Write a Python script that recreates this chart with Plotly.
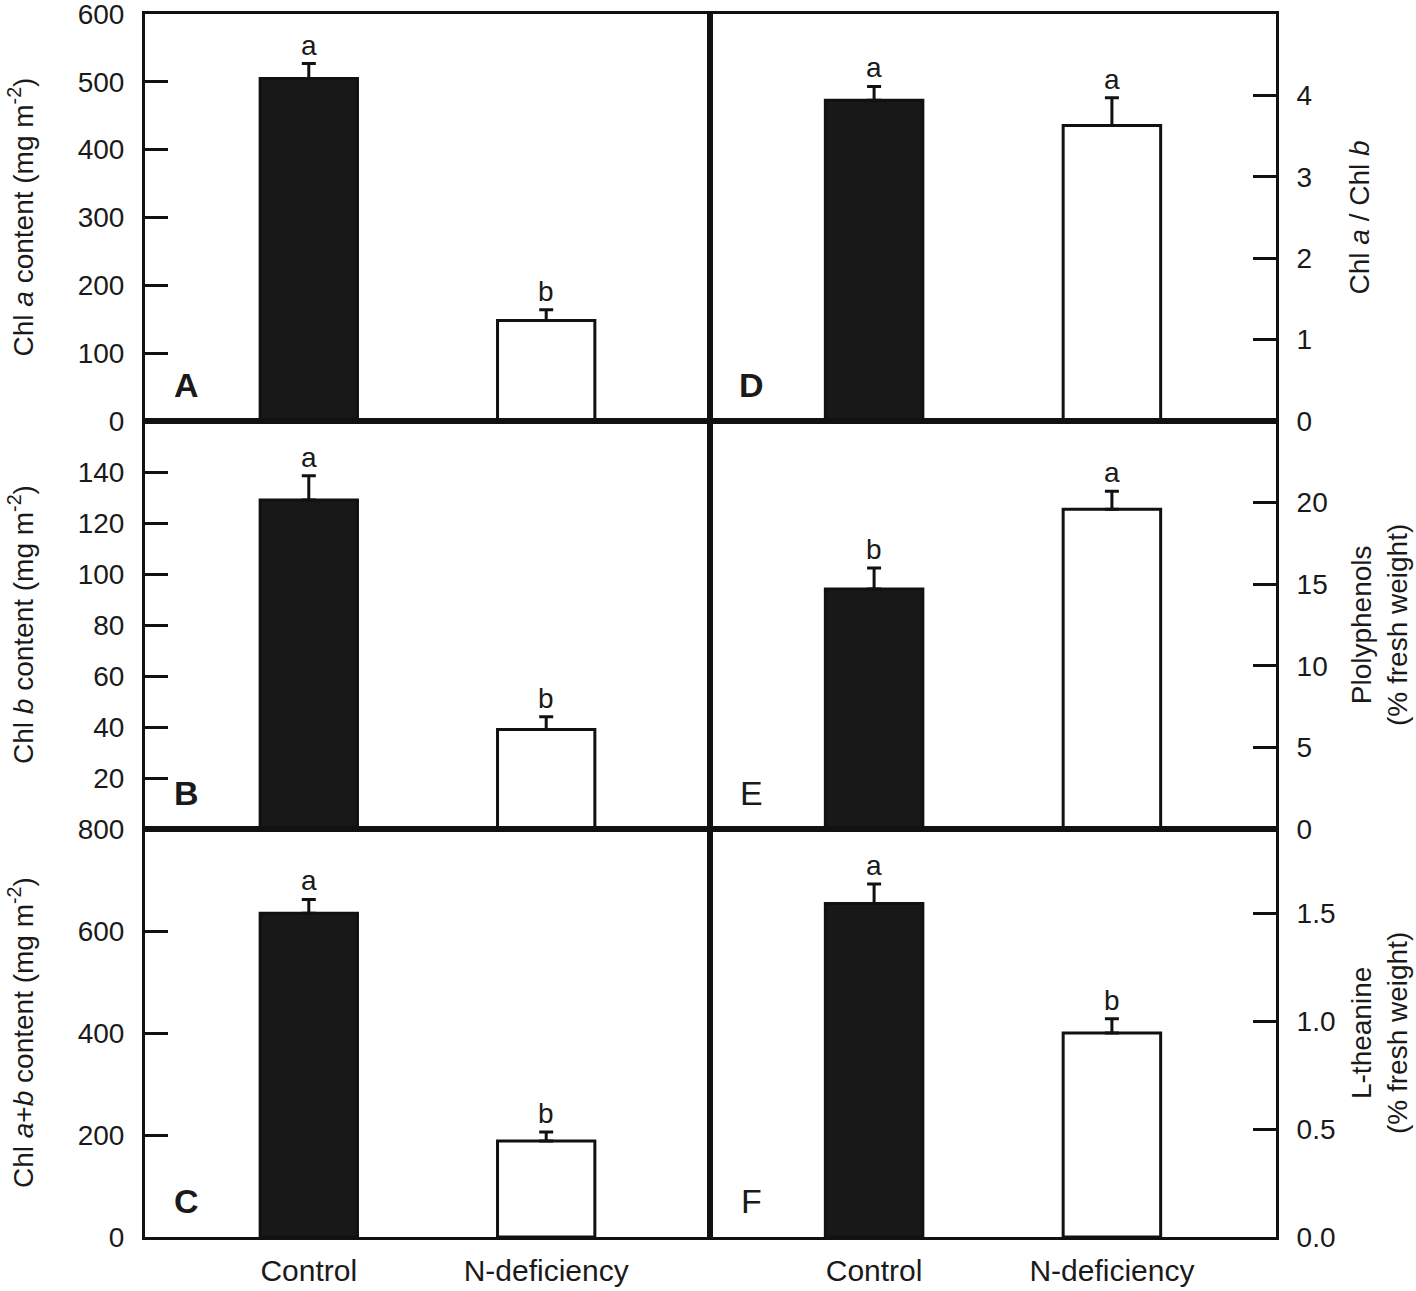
import plotly.graph_objects as go

categories = ["Control", "N-deficiency"]
xpos = [0, 1]

chl_a = [505, 148]
chl_a_err = [22, 16]
chl_a_letters = ["a", "b"]

chl_b = [129, 39]
chl_b_err = [9.5, 5]
chl_b_letters = ["a", "b"]

chl_ab = [635, 188]
chl_ab_err = [27, 18]
chl_ab_letters = ["a", "b"]

ratio = [3.94, 3.63]
ratio_err = [0.17, 0.34]
ratio_letters = ["a", "a"]

polyphenols = [14.7, 19.6]
polyphenols_err = [1.3, 1.1]
polyphenols_letters = ["b", "a"]

theanine = [1.545, 0.945]
theanine_err = [0.09, 0.066]
theanine_letters = ["a", "b"]

W, H = 1416, 1291
OFF = 0  # body margin removed by post_script
FONT = "Liberation Sans, Arial, sans-serif"
TXT = "#1a1a1a"
LINE = "#111111"
BAR_COLORS = ["#181818", "#ffffff"]

# panel geometry (screen pixels)
xl0, xmid, xr1 = 145, 710, 1276
rows_px = [(14, 421), (421, 829), (829, 1237)]

def px_x(v):
    return (v - OFF) / W

def px_y(v):
    return 1 - (v - OFF) / H

panels = [
    (chl_a, chl_a_err, chl_a_letters, [0, 600], [0, 100, 200, 300, 400, 500, 600], None,
     "Chl <i>a</i> content (mg m<sup>-2</sup>)", 0, 0, "A", True, 21),
    (chl_b, chl_b_err, chl_b_letters, [0, 160], [20, 40, 60, 80, 100, 120, 140], None,
     "Chl <i>b</i> content (mg m<sup>-2</sup>)", 0, 1, "B", True, 21),
    (chl_ab, chl_ab_err, chl_ab_letters, [0, 800], [0, 200, 400, 600, 800], None,
     "Chl <i>a</i>+<i>b</i> content (mg m<sup>-2</sup>)", 0, 2, "C", True, 21),
    (ratio, ratio_err, ratio_letters, [0, 5], [0, 1, 2, 3, 4], None,
     "Chl <i>a</i> / Chl <i>b</i>", 1, 0, "D", True, 1359),
    (polyphenols, polyphenols_err, polyphenols_letters, [0, 25], [0, 5, 10, 15, 20], None,
     "Plolyphenols<br>(% fresh weight)", 1, 1, "E", False, 1379),
    (theanine, theanine_err, theanine_letters, [0, 1.89], [0, 0.5, 1.0, 1.5],
     ["0.0", "0.5", "1.0", "1.5"],
     "L-theanine<br>(% fresh weight)", 1, 2, "F", False, 1379),
]

fig = go.Figure()
layout = dict(
    width=W, height=H, autosize=False,
    margin=dict(l=0, r=0, t=0, b=0, pad=0),
    paper_bgcolor="white", plot_bgcolor="white",
    showlegend=False,
    font=dict(family=FONT, color=TXT, size=27),
)
annotations = []

for i, (vals, errs, letters, yr, tv, tt, title, col, row, lab, bold, tx) in enumerate(panels):
    n = "" if i == 0 else str(i + 1)
    xa, ya = "x" + n, "y" + n
    xdom = [px_x(xl0), px_x(xmid)] if col == 0 else [px_x(xmid), px_x(xr1)]
    top, bot = rows_px[row]
    ydom = [px_y(bot), px_y(top)]

    fig.add_trace(go.Bar(
        x=xpos, y=vals, width=0.41, xaxis=xa, yaxis=ya,
        marker=dict(color=BAR_COLORS, line=dict(color=LINE, width=3)),
        error_y=dict(type="data", symmetric=False, array=errs, arrayminus=[0, 0],
                     color=LINE, thickness=3, width=7),
        hoverinfo="skip",
    ))

    layout["xaxis" + n] = dict(
        domain=xdom, anchor=ya, range=[-0.69, 1.69],
        tickvals=xpos, ticktext=categories, ticks="",
        showticklabels=(row == 2), tickfont=dict(size=30, family=FONT, color=TXT),
        ticklabelstandoff=5, automargin=False,
        showline=True, mirror=True, linecolor=LINE, linewidth=3,
        showgrid=False, zeroline=False, fixedrange=True,
    )
    yax = dict(
        domain=ydom, anchor=xa, range=yr, tickvals=tv,
        ticks="inside", ticklen=23, tickwidth=3, tickcolor=LINE,
        side="left" if col == 0 else "right",
        tickfont=dict(size=28, family=FONT, color=TXT),
        ticklabelstandoff=12, automargin=False, ticklabeloverflow="allow",
        showline=True, mirror=True, linecolor=LINE, linewidth=3,
        showgrid=False, zeroline=False, fixedrange=True,
    )
    if tt is not None:
        yax["ticktext"] = tt
    layout["yaxis" + n] = yax

    # significance letters
    for xv, v, e, l in zip(xpos, vals, errs, letters):
        annotations.append(dict(
            x=xv, y=v + e, xref=xa, yref=ya, text=l, showarrow=False,
            xanchor="center", yanchor="bottom", yshift=1,
            font=dict(size=28, family=FONT, color=TXT),
        ))

    # panel label
    annotations.append(dict(
        x=0.074, y=0.088, xref=xa + " domain", yref=ya + " domain",
        text=f"<b>{lab}</b>" if bold else lab, showarrow=False,
        xanchor="center", yanchor="middle",
        font=dict(size=34, family=FONT, color=TXT),
    ))

    # axis title
    ymid = px_y((top + bot) / 2)
    annotations.append(dict(
        x=px_x(tx), y=ymid, xref="paper", yref="paper",
        text=title, showarrow=False, textangle=-90,
        xanchor="center", yanchor="middle",
        font=dict(size=28, family=FONT, color=TXT),
    ))

layout["annotations"] = annotations
fig.update_layout(**layout)
fig.write_html(
    "out.html",
    config={"displayModeBar": False, "staticPlot": True},
    post_script="document.body.style.margin='0';document.body.style.overflow='hidden';",
)
